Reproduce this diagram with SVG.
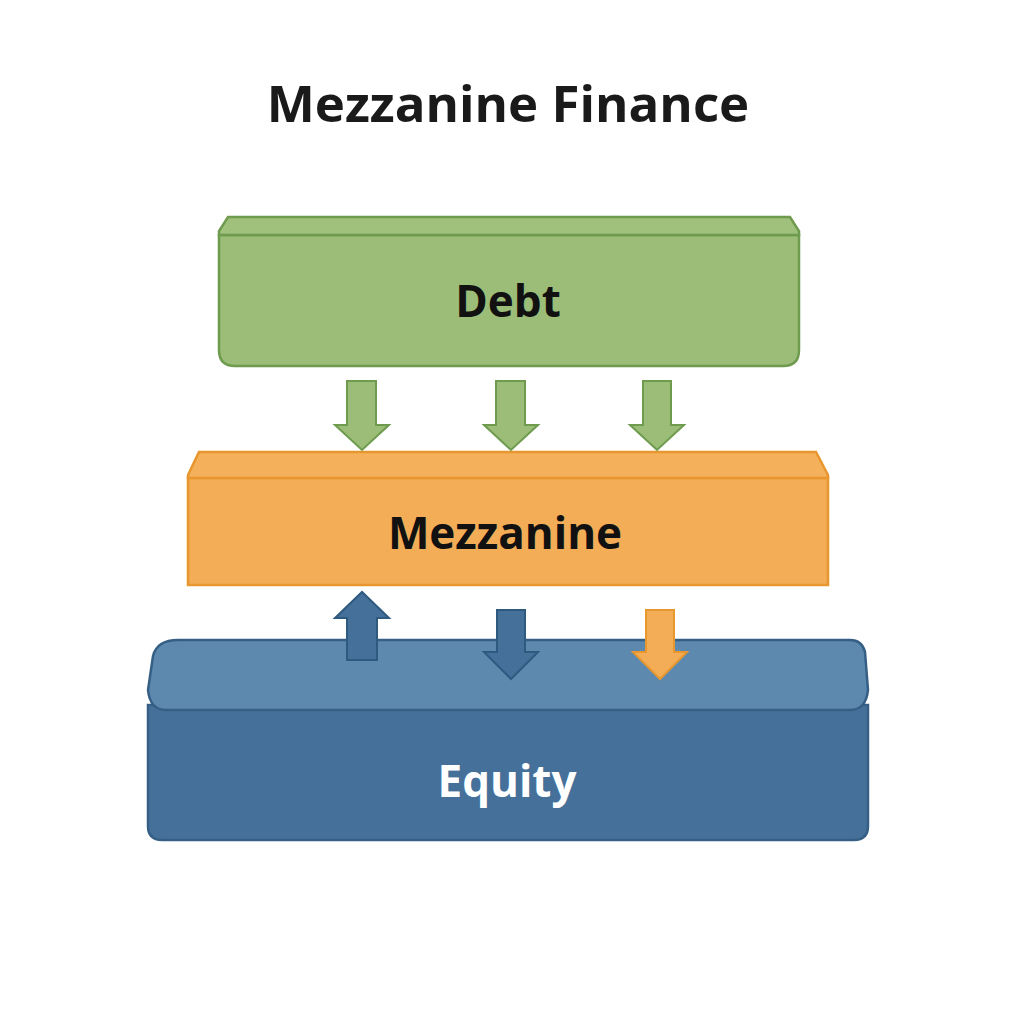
<svg xmlns="http://www.w3.org/2000/svg" width="1024" height="1024" viewBox="0 0 1024 1024">
<style>
text{font-family:"Open Sans","Liberation Sans",sans-serif;font-weight:bold;text-anchor:middle}
.g{fill:#9bbd78;stroke:#6f9b4e;stroke-width:2.5}
.gt{fill:#9fc17c;stroke:#6f9b4e;stroke-width:2.5}
.o{fill:#f3ad57;stroke:#e8962e;stroke-width:2.5}
.ot{fill:#f4b05b;stroke:#e8962e;stroke-width:2.5}
.b{fill:#44709a;stroke:#365f86;stroke-width:2.5}
.bt{fill:#5d89ae;stroke:#365f86;stroke-width:2.5}
.ga{fill:#9bbd78;stroke:#6f9b4e;stroke-width:2}
.ba{fill:#44709a;stroke:#2f5a80;stroke-width:2}
.oa{fill:#f3ad57;stroke:#e8962e;stroke-width:2}
</style>
<rect width="1024" height="1024" fill="#ffffff"/>
<text x="508" y="122" font-size="51" fill="#1a1a1a">Mezzanine Finance</text>

<g id="debt">
<path class="g" d="M219 235 H799 V350 Q799 366 783 366 H235 Q219 366 219 350 Z"/>
<path class="gt" d="M228 217 H790 L799 231 V235 H219 V231 Z"/>
<text x="508" y="317" font-size="44" fill="#111">Debt</text>
</g>

<g id="mezzanine">
<path class="o" d="M188 478 H828 V585 H188 Z"/>
<path class="ot" d="M199 452 H816 L828 475 V478 H188 V475 Z"/>
<text x="505" y="549" font-size="44" fill="#111">Mezzanine</text>
</g>

<g id="equity">
<path class="b" d="M148 705 H868 V826 Q868 840 854 840 H162 Q148 840 148 826 Z"/>
<path class="bt" d="M178 640 H850 Q862 640 865 652 L868 690 Q866 710 850 710 H166 Q150 710 148 690 L153 656 Q157 640 178 640 Z"/>
<text x="507" y="797" font-size="44" fill="#ffffff">Equity</text>
</g>

<g id="connectors">
<path class="ga" d="M347 381 H376 V425 H389 L362 450 L335 425 H347 Z"/>
<path class="ga" d="M496 381 H525 V425 H538 L511 450 L484 425 H496 Z"/>
<path class="ga" d="M643 381 H671 V425 H684 L657 450 L630 425 H643 Z"/>
<path class="ba" d="M347 660 H377 V618 H389 L362 592 L335 618 H347 Z"/>
<path class="ba" d="M497 610 H525 V652 H538 L511 679 L484 652 H497 Z"/>
<path class="oa" d="M646 610 H674 V652 H687 L660 679 L633 652 H646 Z"/>
</g>
</svg>
